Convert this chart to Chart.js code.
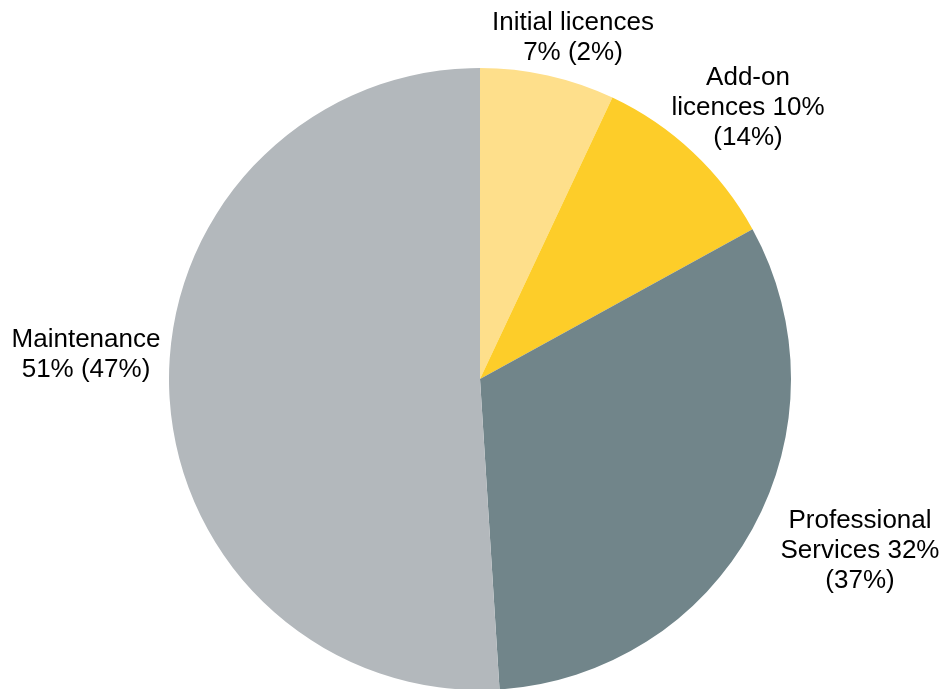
<!DOCTYPE html>
<html>
<head>
<meta charset="utf-8">
<script src="https://cdn.jsdelivr.net/npm/chart.js@4/dist/chart.umd.min.js"></script>
<style>
  html, body { margin: 0; padding: 0; background: #ffffff; overflow: hidden; }
  #wrap { width: 945px; height: 689px; }
</style>
</head>
<body>
<div id="wrap"><canvas id="pie" width="945" height="689"></canvas></div>
<script>
// Revenue split by stream (share this year, share prior year in brackets)
const categories = ['Initial licences', 'Add-on licences', 'Professional Services', 'Maintenance'];
const shares = [7, 10, 32, 51];
const priorShares = [2, 14, 37, 47];
const sliceColors = ['#FEDF8B', '#FDCD29', '#71858A', '#B3B8BC'];

// How each label is broken into lines
const labelLines = [
  (i) => ['Initial licences', shares[i] + '% (' + priorShares[i] + '%)'],
  (i) => ['Add-on', 'licences ' + shares[i] + '%', '(' + priorShares[i] + '%)'],
  (i) => ['Professional', 'Services ' + shares[i] + '%', '(' + priorShares[i] + '%)'],
  (i) => ['Maintenance', shares[i] + '% (' + priorShares[i] + '%)']
];
// Label placement: offset of the first baseline from the pie centre
const labelOffsets = [
  { dx: 93, dy: -349 },
  { dx: 268, dy: -294 },
  { dx: 380, dy: 149 },
  { dx: -394, dy: -32 }
];
const LINE_HEIGHT = 30;
const LABEL_FONT = '26px "Liberation Sans", Arial, sans-serif';

const outsideLabels = {
  id: 'outsideLabels',
  afterDatasetsDraw(chart) {
    const ctx = chart.ctx;
    const arc = chart.getDatasetMeta(0).data[0];
    const cx = arc.x, cy = arc.y;
    ctx.save();
    ctx.font = LABEL_FONT;
    ctx.fillStyle = '#000000';
    ctx.textAlign = 'center';
    ctx.textBaseline = 'alphabetic';
    categories.forEach((c, i) => {
      const lines = labelLines[i](i);
      const off = labelOffsets[i];
      lines.forEach((t, k) => {
        ctx.fillText(t, cx + off.dx, cy + off.dy + k * LINE_HEIGHT);
      });
    });
    ctx.restore();
  }
};

new Chart(document.getElementById('pie'), {
  type: 'pie',
  data: {
    labels: categories,
    datasets: [{
      data: shares,
      backgroundColor: sliceColors,
      borderWidth: 0,
      hoverOffset: 0
    }]
  },
  options: {
    responsive: false,
    animation: false,
    radius: 311,
    layout: { padding: { left: 15, right: 0, top: 69, bottom: 0 } },
    plugins: {
      legend: { display: false },
      tooltip: { enabled: false }
    }
  },
  plugins: [outsideLabels]
});
</script>
</body>
</html>
